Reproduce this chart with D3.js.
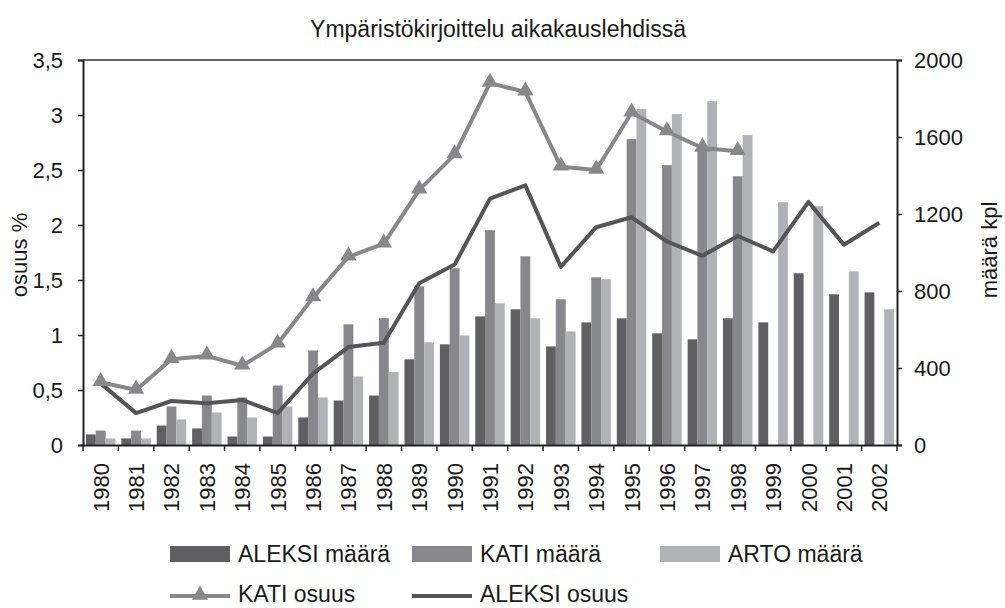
<!DOCTYPE html>
<html>
<head>
<meta charset="utf-8">
<script src="https://cdn.jsdelivr.net/npm/d3@7"></script>
<style>
  body { margin: 0; background: #fff; }
  svg text { font-family: "Liberation Sans", Arial, sans-serif; fill: #1a1a1a; }
</style>
</head>
<body>
<svg id="chart" width="1005" height="608"></svg>
<script>
// data
const years = ["1980","1981","1982","1983","1984","1985","1986","1987","1988","1989","1990",
  "1991","1992","1993","1994","1995","1996","1997","1998","1999","2000","2001","2002"];
const aleksiMaara = [55, 34, 101, 86, 44, 44, 143, 231, 257, 445, 523, 668, 705, 512, 637, 658, 580, 549, 658, 637, 892, 783, 793];
const katiMaara = [75, 75, 200, 257, 247, 309, 491, 627, 659, 824, 918, 1116, 980, 757, 871, 1589, 1454, 1560, 1396, null, null, null, null];
const artoMaara = [34, 34, 133, 169, 143, 200, 247, 356, 379, 533, 569, 736, 658, 590, 861, 1745, 1719, 1786, 1610, 1261, 1240, 902, 705];
const katiOsuus = [0.57, 0.50, 0.78, 0.81, 0.72, 0.92, 1.34, 1.71, 1.83, 2.32, 2.64, 3.29, 3.21, 2.53, 2.50, 3.02, 2.85, 2.70, 2.67, null, null, null, null];
const aleksiOsuus = [0.56, 0.29, 0.40, 0.38, 0.41, 0.29, 0.65, 0.89, 0.93, 1.47, 1.64, 2.24, 2.36, 1.62, 1.98, 2.07, 1.85, 1.72, 1.90, 1.76, 2.21, 1.82, 2.02];
const leftTicks = [0, 0.5, 1, 1.5, 2, 2.5, 3, 3.5];
const rightTicks = [0, 400, 800, 1200, 1600, 2000];

const colors = { aleksi: "#606062", kati: "#88888c", arto: "#b1b2b6", katiLine: "#88888a", aleksiLine: "#555557" };

const svg = d3.select("#chart");
const margin = { left: 83, right: 108, top: 60, bottom: 163 };
const width = 1005 - margin.left - margin.right;
const height = 608 - margin.top - margin.bottom;

const g = svg.append("g").attr("transform", `translate(${margin.left},${margin.top})`);

const x = d3.scaleBand().domain(years).range([0, width]).paddingInner(0).paddingOuter(0);
const inner = d3.scaleBand().domain(["aleksi", "kati", "arto"]).range([0, x.bandwidth()]).paddingOuter(0.3).paddingInner(0);
const yLeft = d3.scaleLinear().domain([0, 3.5]).range([height, 0]);
const yRight = d3.scaleLinear().domain([0, 2000]).range([height, 0]);

// bars
const barSeries = [
  { key: "aleksi", values: aleksiMaara },
  { key: "kati", values: katiMaara },
  { key: "arto", values: artoMaara }
];
barSeries.forEach(s => {
  g.selectAll(".bar-" + s.key)
    .data(years.map((yr, i) => ({ yr, v: s.values[i] })).filter(d => d.v != null))
    .join("rect")
    .attr("x", d => x(d.yr) + inner(s.key))
    .attr("width", inner.bandwidth())
    .attr("y", d => yRight(d.v))
    .attr("height", d => height - yRight(d.v))
    .attr("fill", colors[s.key]);
});

// lines
const line = d3.line()
  .defined(d => d.v != null)
  .x(d => x(d.yr) + x.bandwidth() / 2)
  .y(d => yLeft(d.v));

const katiPts = years.map((yr, i) => ({ yr, v: katiOsuus[i] }));
const aleksiPts = years.map((yr, i) => ({ yr, v: aleksiOsuus[i] }));

g.append("path").datum(katiPts).attr("d", line)
  .attr("fill", "none").attr("stroke", colors.katiLine).attr("stroke-width", 4).attr("stroke-linejoin", "round");
g.append("path").datum(aleksiPts).attr("d", line)
  .attr("fill", "none").attr("stroke", colors.aleksiLine).attr("stroke-width", 4).attr("stroke-linejoin", "round");

const tri = d3.symbol().type(d3.symbolTriangle).size(115);
g.selectAll(".tri")
  .data(katiPts.filter(d => d.v != null))
  .join("path")
  .attr("d", tri)
  .attr("transform", d => `translate(${x(d.yr) + x.bandwidth() / 2},${yLeft(d.v) - 1})`)
  .attr("fill", colors.katiLine);

// frame top line
g.append("line").attr("x1", 0).attr("x2", width).attr("y1", 0).attr("y2", 0)
  .attr("stroke", "#333").attr("stroke-width", 1.5);

// axes
const leftAxis = g.append("g")
  .call(d3.axisLeft(yLeft).tickValues(leftTicks).tickSize(5).tickPadding(15)
    .tickFormat(d => String(d).replace(".", ",")));
const rightAxis = g.append("g").attr("transform", `translate(${width},0)`)
  .call(d3.axisRight(yRight).tickValues(rightTicks).tickSize(5).tickPadding(12).tickFormat(d3.format("d")));
const bottomAxis = g.append("g").attr("transform", `translate(0,${height})`)
  .call(d3.axisBottom(x).tickSize(0).tickFormat(""));

[leftAxis, rightAxis, bottomAxis].forEach(a => {
  a.select(".domain").attr("stroke", "#222").attr("stroke-width", 2);
  a.selectAll(".tick line").attr("stroke", "#222").attr("stroke-width", 1.5);
  a.selectAll("text").style("font-size", "22px").attr("fill", "#1a1a1a");
});

// category boundary ticks
g.selectAll(".xtick")
  .data(years.concat(["end"]))
  .join("line")
  .attr("x1", (d, i) => i * x.step())
  .attr("x2", (d, i) => i * x.step())
  .attr("y1", height)
  .attr("y2", height + 6)
  .attr("stroke", "#222").attr("stroke-width", 1.5);

// year labels
g.selectAll(".ylab")
  .data(years)
  .join("text")
  .attr("transform", d => `translate(${x(d) + x.bandwidth() / 2 + 8},${height + 18}) rotate(-90)`)
  .attr("text-anchor", "end")
  .style("font-size", "22px")
  .text(d => d);

// title and axis titles
svg.append("text").attr("x", 498).attr("y", 37).attr("text-anchor", "middle")
  .style("font-size", "23px").text("Ympäristökirjoittelu aikakauslehdissä");
svg.append("text").attr("transform", "translate(27,255) rotate(-90)").attr("text-anchor", "middle")
  .style("font-size", "22px").text("osuus %");
svg.append("text").attr("transform", "translate(997,250) rotate(-90)").attr("text-anchor", "middle")
  .style("font-size", "22px").text("määrä kpl");

// legend
const legend = svg.append("g");
const legendBars = [
  { key: "aleksi", label: "ALEKSI määrä", x: 170 },
  { key: "kati", label: "KATI määrä", x: 412 },
  { key: "arto", label: "ARTO määrä", x: 660 }
];
legendBars.forEach(l => {
  legend.append("rect").attr("x", l.x).attr("y", 546).attr("width", 60).attr("height", 16).attr("fill", colors[l.key]);
  legend.append("text").attr("x", l.x + 68).attr("y", 562).style("font-size", "23px").text(l.label);
});
legend.append("line").attr("x1", 170).attr("x2", 230).attr("y1", 596).attr("y2", 596)
  .attr("stroke", colors.katiLine).attr("stroke-width", 4);
legend.append("path").attr("d", tri).attr("transform", "translate(200,595)").attr("fill", colors.katiLine);
legend.append("text").attr("x", 238).attr("y", 602).style("font-size", "23px").text("KATI osuus");
legend.append("line").attr("x1", 412).attr("x2", 472).attr("y1", 596).attr("y2", 596)
  .attr("stroke", colors.aleksiLine).attr("stroke-width", 4);
legend.append("text").attr("x", 480).attr("y", 602).style("font-size", "23px").text("ALEKSI osuus");
</script>
</body>
</html>
